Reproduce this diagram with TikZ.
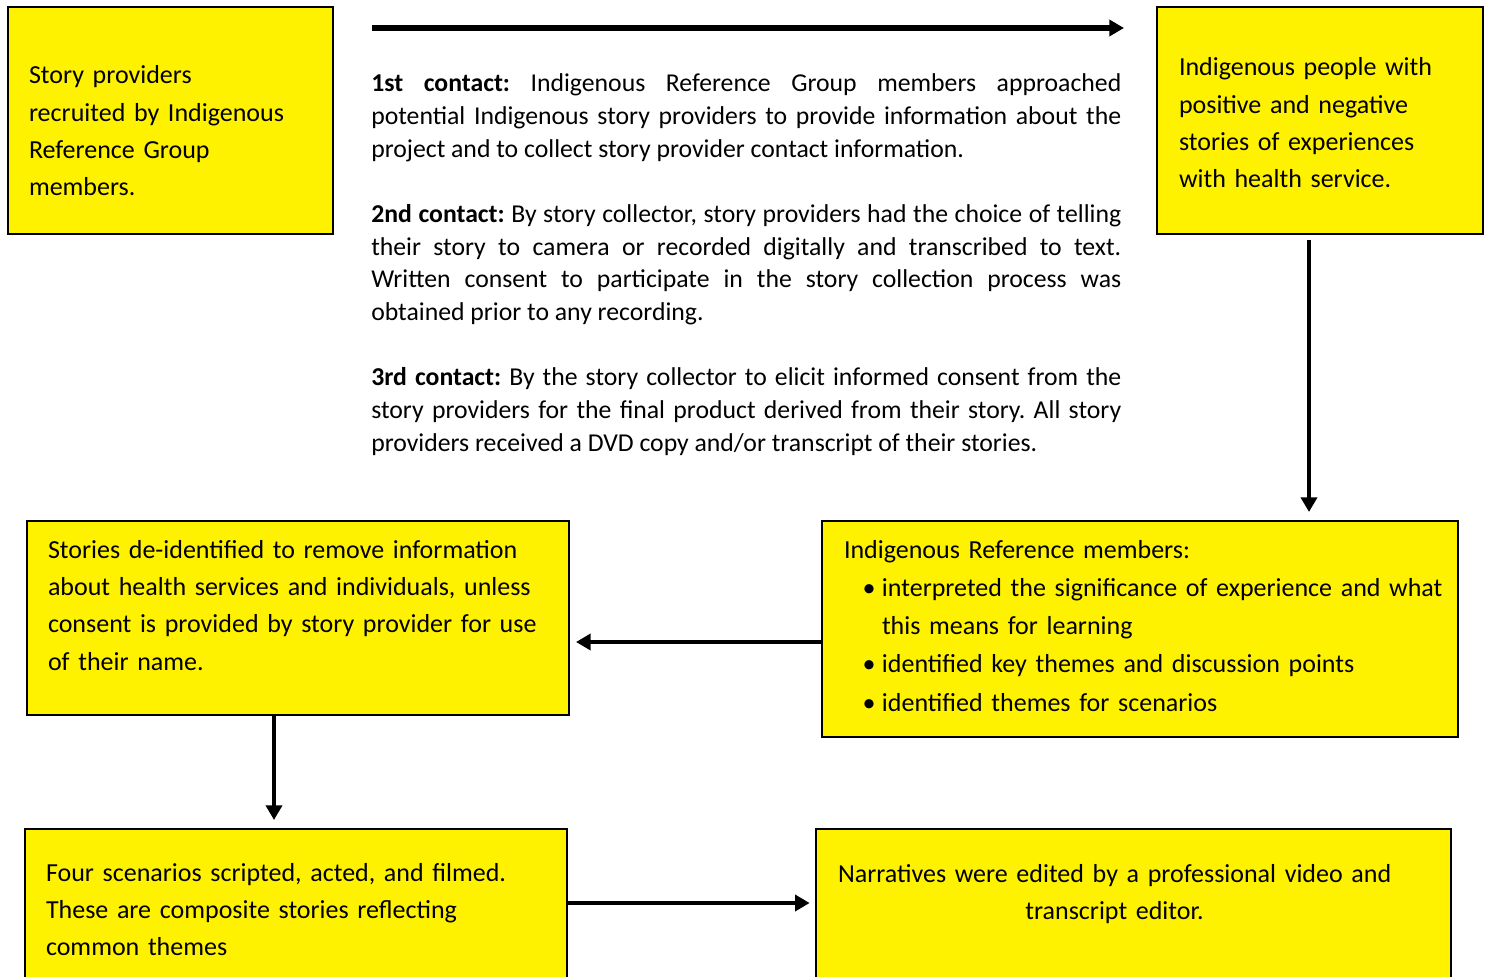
\documentclass[tikz,border=0pt]{standalone}
\usepackage{fontspec}
\setmainfont{Carlito}
\usetikzlibrary{arrows.meta}

\tikzset{
    stage/.style={draw=black, line width=1.5pt, fill=yellow, anchor=north west,
        inner ysep=0pt, align=left, font=\fontsize{19.5pt}{28pt}\selectfont},
    flow/.style={line width=3.5pt, -{Triangle[length=11pt, width=12pt]}},
}

\newcommand{\themeitem}[1]{\hspace*{14pt}\makebox[14.5pt][l]{\textbullet}\mbox{#1}}
\frenchspacing

\begin{document}
\begin{tikzpicture}[x=0.75pt, y=-0.75pt]

    % the frame
    \useasboundingbox (0, 0) rectangle (1486, 977);
    \path[clip] (0, 0) rectangle (1486, 977);

    % top row
    \node[stage, text width=212.25pt, inner xsep=15.75pt, text height=57.75pt, text depth=112.5pt]
        (recruit) at (7, 6) {Story providers\\ recruited by Indigenous\\ Reference Group\\ members.};
    \node[stage, text width=211.5pt, inner xsep=16.5pt, text height=51.75pt, text depth=118.5pt]
        (people) at (1156, 6) {Indigenous people with\\ positive and negative\\ stories of experiences\\ with health service.};

    % the contacts
    \coordinate (contactstart) at (372, 28);
    \coordinate (contactend) at (1124, 28);
    \draw[flow, line width=4pt] (contactstart) -- (contactend);

    \node[anchor=base west, inner sep=0pt, text width=562.5pt, align=justify,
        font=\fontsize{19.3pt}{24.5pt}\selectfont] (contacts) at (371, 92) {%
        \parindent=0pt
        \textbf{1st contact:} Indigenous Reference Group members approached\linebreak
        potential Indigenous story providers to provide information about the\linebreak
        project and to collect story provider contact information.\par\vspace{24.5pt}
        \textbf{2nd contact:} By story collector, story providers had the choice of telling\linebreak
        their story to camera or recorded digitally and transcribed to text.\linebreak
        Written consent to participate in the story collection process was\linebreak
        obtained prior to any recording.\par\vspace{24.5pt}
        \textbf{3rd contact:} By the story collector to elicit informed consent from the\linebreak
        story providers for the final product derived from their story. All story\linebreak
        providers received a DVD copy and/or transcript of their stories.};

    % middle row
    \node[stage, text width=444pt, inner xsep=16.5pt, text height=27.75pt, text depth=134.25pt,
        font=\fontsize{19.5pt}{28.7pt}\selectfont]
        (themes) at (821, 520) {Indigenous Reference members:\\
        \themeitem{interpreted the significance of experience and what}\\
        \hspace*{28.5pt}this means for learning\\
        \themeitem{identified key themes and discussion points}\\
        \themeitem{identified themes for scenarios}};
    \node[stage, text width=375pt, inner xsep=15.75pt, text height=27.75pt, text depth=117.75pt]
        (deident) at (26, 520) {Stories de-identified to remove information\\
        about health services and individuals, unless\\
        consent is provided by story provider for use\\
        of their name.};

    % bottom row
    \node[stage, text width=375pt, inner xsep=15.75pt, text height=39pt, text depth=111pt]
        (scenarios) at (24, 828) {Four scenarios scripted, acted, and filmed.\\
        These are composite stories reflecting\\
        common themes};
    \node[stage, align=center, text width=443.25pt, inner xsep=16.5pt, text height=39.75pt, text depth=110.25pt]
        (edited) at (815, 828) {\mbox{Narratives were edited by a professional video and}\kern28.5pt\\
        \mbox{transcript editor.}\kern28.5pt};

    % arrows
    \draw[flow, shorten <=4pt, shorten >=6pt] ([xshift=-8.25pt]people.south) coordinate (p1) -- (p1 |- themes.north);
    \draw[flow, shorten >=4.5pt] ([yshift=-9.75pt]themes.west) coordinate (p2) -- (p2 -| deident.east);
    \draw[flow, shorten >=6pt] ([xshift=-18pt]deident.south) coordinate (p3) -- (p3 |- scenarios.north);
    \draw[flow, shorten >=4pt] ([yshift=-56.25pt]scenarios.north east) coordinate (p4) -- (p4 -| edited.west);

\end{tikzpicture}
\end{document}
